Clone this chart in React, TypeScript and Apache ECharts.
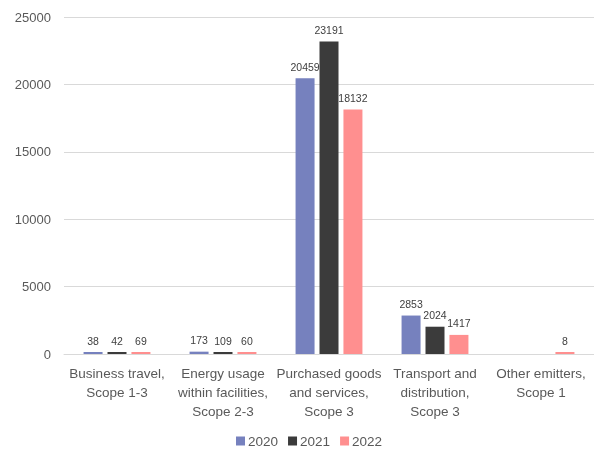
import React, { useEffect, useRef } from "react";
import * as echarts from "echarts";

const categories = [
  "Business travel,\nScope 1-3",
  "Energy usage\nwithin facilities,\nScope 2-3",
  "Purchased goods\nand services,\nScope 3",
  "Transport and\ndistribution,\nScope 3",
  "Other emitters,\nScope 1",
];
const years = ["2020", "2021", "2022"];
const values2020: (number | null)[] = [38, 173, 20459, 2853, null];
const values2021: (number | null)[] = [42, 109, 23191, 2024, null];
const values2022: (number | null)[] = [69, 60, 18132, 1417, 8];
const colors = ["#7681BE", "#3B3B3B", "#FF8F8F"];

const FONT = "'Liberation Sans', Arial, sans-serif";

export default function App() {
  const ref = useRef<HTMLDivElement>(null);
  useEffect(() => {
    if (!ref.current) return;
    const chart = echarts.init(ref.current, undefined, { renderer: "svg" });
    const data = [values2020, values2021, values2022];
    chart.setOption({
      animation: false,
      textStyle: { fontFamily: FONT },
      grid: { left: 64, right: 0, top: 17, bottom: 96, containLabel: false },
      legend: {
        data: years,
        top: 433,
        left: 236,
        padding: 0,
        itemWidth: 9,
        itemHeight: 9,
        itemGap: 10,
        icon: "rect",
        textStyle: {
          fontSize: 13.5,
          lineHeight: 16,
          color: "#595959",
          fontFamily: FONT,
          padding: [0, 0, 0, -2],
        },
      },
      xAxis: {
        type: "category",
        data: categories,
        axisLine: { lineStyle: { color: "#D9D9D9" } },
        axisTick: { show: false },
        axisLabel: {
          interval: 0,
          color: "#595959",
          fontSize: 13.5,
          lineHeight: 19,
          margin: 10,
          fontFamily: FONT,
        },
      },
      yAxis: {
        type: "value",
        min: 0,
        max: 25000,
        interval: 5000,
        axisLine: { show: false },
        axisTick: { show: false },
        splitLine: { lineStyle: { color: "#D9D9D9" } },
        axisLabel: {
          color: "#595959",
          fontSize: 13,
          margin: 13,
          fontFamily: FONT,
          formatter: (v: number) => String(v),
        },
      },
      series: years.map((y, i) => ({
        name: y,
        type: "bar",
        data: data[i],
        barWidth: 19,
        barGap: "26%",
        barMinHeight: 2,
        itemStyle: { color: colors[i] },
        label: {
          show: true,
          position: "top",
          distance: 6,
          fontSize: 10.5,
          color: "#404040",
          fontFamily: FONT,
        },
      })),
    });
    return () => chart.dispose();
  }, []);
  return (
    <div
      ref={ref}
      style={{ position: "fixed", left: 0, top: 0, width: 594, height: 450 }}
    />
  );
}
